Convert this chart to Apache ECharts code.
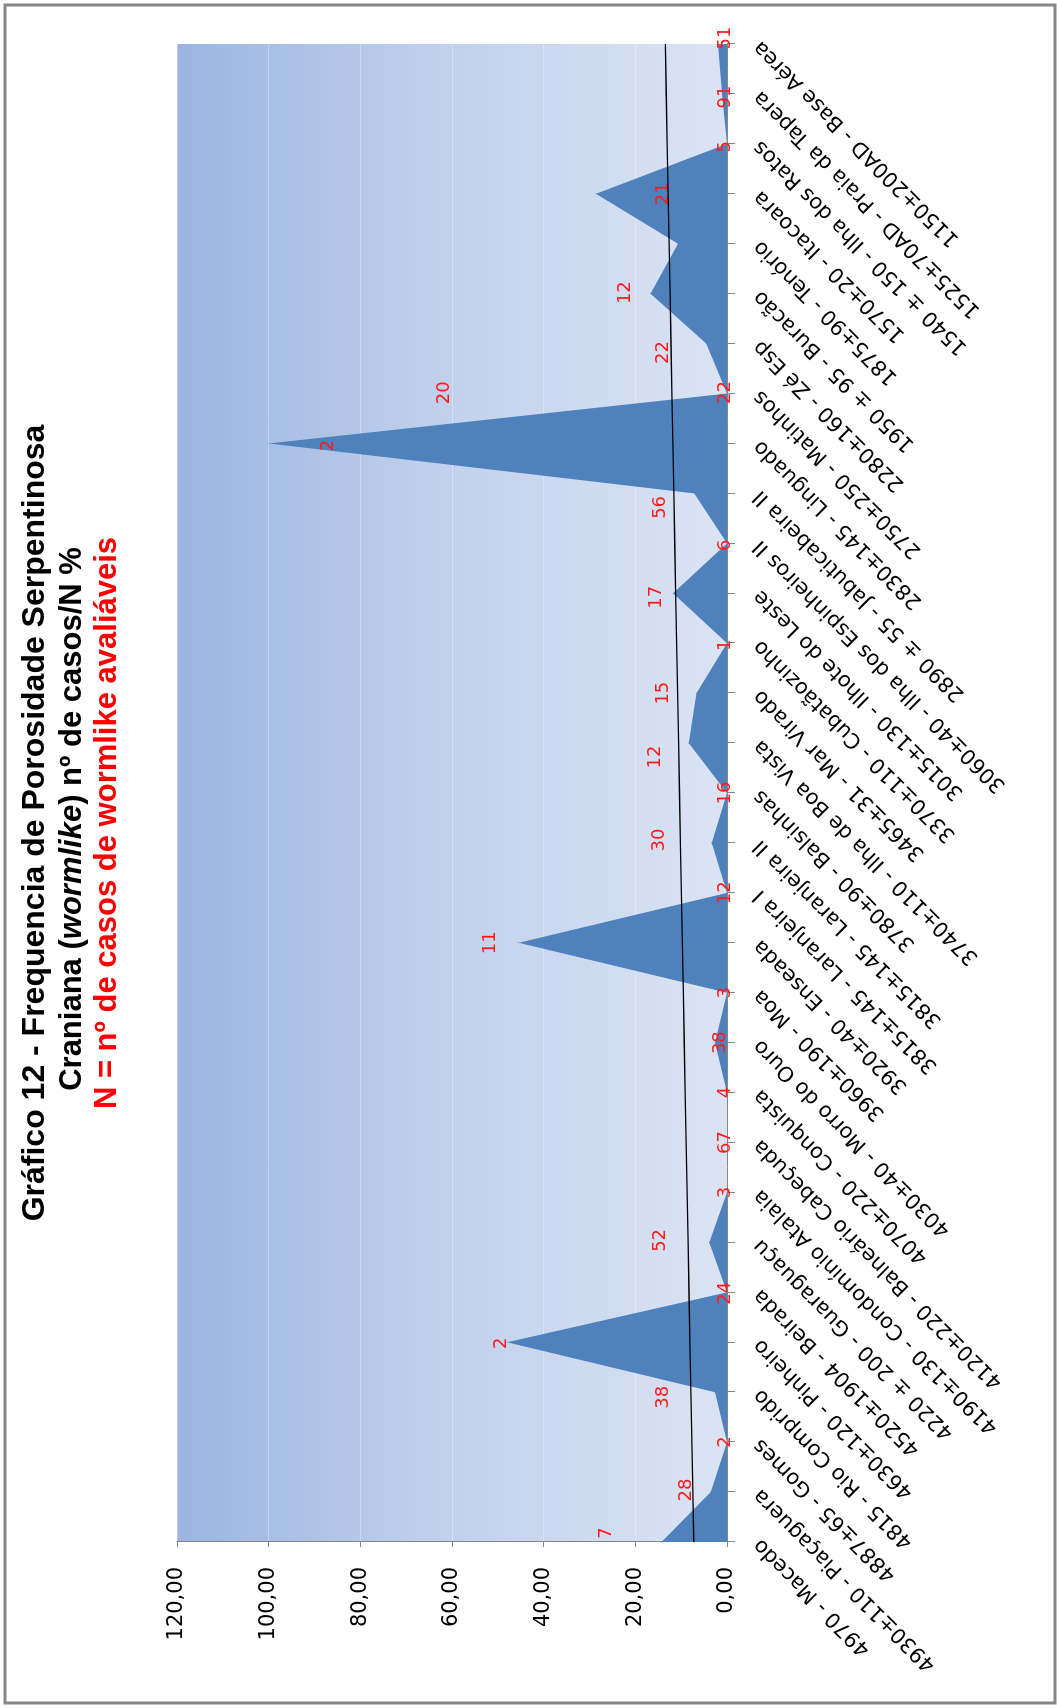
<!DOCTYPE html>
<html>
<head>
<meta charset="utf-8">
<title>Gráfico 12 - Frequencia de Porosidade Serpentinosa Craniana</title>
<script src="https://cdn.jsdelivr.net/npm/echarts@6/dist/echarts.min.js"></script>
<style>
  html, body { margin: 0; padding: 0; width: 1057px; height: 1708px; overflow: hidden; background: #ffffff; }
  /* the chart is laid out in landscape and turned a quarter turn to fit the portrait page */
  #chart {
    position: absolute; left: 0; top: 0;
    width: 1708px; height: 1057px;
    transform-origin: 0 0;
    transform: translate(0, 1708px) rotate(-90deg);
  }
</style>
</head>
<body>
<div id="chart"></div>
<script>
// Sites, ordered from oldest to most recent date
const sites = [
  '4970 - Macedo',
  '4930±110 - Piaçaguera',
  '4887±65 - Gomes',
  '4815 - Rio Comprido',
  '4630±120 - Pinheiro',
  '4520±1904 - Beirada',
  '4220 ± 200 - Guaraguaçu',
  '4190±130 - Condomínio Atalaia',
  '4120±220 - Balneário Cabeçuda',
  '4070±220 - Conquista',
  '4030±40 - Morro do Ouro',
  '3960±190 - Moa',
  '3920±40 - Enseada',
  '3815±145 - Laranjeira I',
  '3815±145 - Laranjeira II',
  '3780±90 - Balsinhas',
  '3740±110 - Ilha de Boa Vista',
  '3465±31 - Mar Virado',
  '3370±110 - Cubatãozinho',
  '3015±130 - Ilhote do Leste',
  '3060±40 - Ilha dos Espinheiros II',
  '2890 ± 55 - Jabuticabeira II',
  '2830±145 - Linguado',
  '2750±250 - Matinhos',
  '2280±160 - Zé Esp',
  '1950 ± 95 - Buracão',
  '1875±90 - Tenório',
  '1570±20 - Itacoara',
  '1540 ± 150 - Ilha dos Ratos',
  '1525±70AD - Praia da Tapera',
  '1150±200AD - Base Aérea'
];

// Frequency of wormlike porosity (% of evaluable crania)
const frequency = [
  14.29, 3.57, 0, 2.63, 48, 0, 3.85, 0, 0, 0,
  2.63, 0, 45.45, 0, 3.33, 0, 8.33, 6.67, 0, 11.76,
  0, 7.14, 100, 0, 4.55, 16.67, 10.7, 28.57, 0, 1.10,
  1.96
];

// N = number of evaluable crania per site
const sampleN = [
  7, 28, 2, 38, 2, 24, 52, 3, 67, 4,
  38, 3, 11, 12, 30, 16, 12, 15, 1, 17,
  6, 56, 2, 22, 22, 12, 20, 21, 5, 91,
  51
];

// Value axis tick labels (decimal comma)
const valueTickLabels = ['0,00', '20,00', '40,00', '60,00', '80,00', '100,00', '120,00'];

const titleLine1 = 'Gráfico 12 - Frequencia de Porosidade Serpentinosa';
const titleLine2 = ['Craniana (', 'wormlike', ') nº de casos/N %'];
const titleLine3 = 'N = nº de casos de wormlike avaliáveis';

// Pixel nudges for the N labels, [along categories, along values]
const labelShift = [
  [9, -55], [2, -24], [0, -2], [-5, -52], [-1, -6], [-1, -2], [2, -49], [0, -2], [0, -2], [0, -2],
  [0, 5], [0, -2], [0, -28], [0, -2], [3, -52], [0, -2], [-14, -33], [0, -33], [-2, -2], [-4, -17],
  [-2, -2], [-14, -34], [-2, 60], [1, -2], [-9, -43], [1, -25], [-149, -234], [0, 67], [-3, -2], [-3, 3],
  [6, 7]
];

// Linear trend line (least squares over the site order)
const count = frequency.length;
const meanX = (count - 1) / 2;
const meanY = frequency.reduce((a, b) => a + b, 0) / count;
let sxy = 0, sxx = 0;
frequency.forEach((v, i) => { sxy += (i - meanX) * (v - meanY); sxx += (i - meanX) * (i - meanX); });
const slope = sxy / sxx;
const trend = frequency.map((_, i) => meanY + slope * (i - meanX));

const chart = echarts.init(document.getElementById('chart'), null, { renderer: 'canvas' });

const sansNum = 'DejaVu Sans';
const sansTitle = 'Liberation Sans';

chart.setOption({
  animation: false,
  backgroundColor: '#ffffff',
  title: [
    {
      text: titleLine1,
      left: 880, top: 14, textAlign: 'center',
      textStyle: { fontFamily: sansTitle, fontSize: 32, fontWeight: 'bold', color: '#000000' }
    },
    {
      text: '{n|' + titleLine2[0] + '}{i|' + titleLine2[1] + '}{n|' + titleLine2[2] + '}',
      left: 884, top: 52, textAlign: 'center',
      textStyle: {
        rich: {
          n: { fontFamily: sansTitle, fontSize: 31, color: '#000000' },
          i: { fontFamily: sansTitle, fontSize: 31, fontStyle: 'italic', color: '#000000' }
        }
      }
    },
    {
      text: titleLine3,
      left: 880, top: 87, textAlign: 'center',
      textStyle: { fontFamily: sansTitle, fontSize: 31, fontWeight: 'bold', color: '#ff0000' }
    }
  ],
  graphic: [
    {
      type: 'rect', silent: true, z: 100,
      shape: { x: 5, y: 5, width: 1698, height: 1050 },
      style: { fill: 'none', stroke: '#868686', lineWidth: 3 }
    }
  ],
  grid: {
    left: 166, right: 44, top: 177, height: 550,
    show: true, borderWidth: 0,
    backgroundColor: new echarts.graphic.LinearGradient(0, 0, 0, 1, [
      { offset: 0, color: '#9bb4e1' },
      { offset: 0.45, color: '#bfcfec' },
      { offset: 1, color: '#dbe4f4' }
    ])
  },
  xAxis: {
    type: 'category',
    data: sites,
    boundaryGap: false,
    axisLine: { show: true, lineStyle: { color: '#868686', width: 1 } },
    axisTick: { show: true, interval: 0, length: 8, lineStyle: { color: '#868686' } },
    axisLabel: {
      interval: 0, rotate: 45, margin: 30,
      fontFamily: sansNum, fontSize: 21, color: '#000000'
    },
    splitLine: { show: false }
  },
  yAxis: {
    type: 'value',
    min: 0, max: 120, interval: 20,
    axisLine: { show: true, lineStyle: { color: '#868686', width: 1 } },
    axisTick: { show: true, length: 5, lineStyle: { color: '#868686' } },
    axisLabel: {
      margin: 25, fontFamily: sansNum, fontSize: 21, color: '#000000',
      formatter: (v) => valueTickLabels[Math.round(v / 20)]
    },
    splitLine: { show: true, lineStyle: { color: 'rgba(255,255,255,0.32)', width: 1 } }
  },
  series: [
    {
      name: 'Frequência',
      type: 'line',
      data: frequency.map((v, i) => ({ value: v, label: { offset: labelShift[i] } })),
      symbol: 'circle', symbolSize: 1,
      itemStyle: { color: '#4f81bd' },
      lineStyle: { width: 0, color: '#4f81bd' },
      areaStyle: { color: '#4f81bd', opacity: 1 },
      label: {
        show: true, position: 'inside',
        fontFamily: sansNum, fontSize: 18, color: '#ff1a1a',
        formatter: (p) => String(sampleN[p.dataIndex])
      },
      z: 2
    },
    {
      name: 'Linear (Frequência)',
      type: 'line',
      data: trend,
      symbol: 'none',
      lineStyle: { color: '#000000', width: 1.3 },
      z: 3,
      silent: true
    }
  ]
});
</script>
</body>
</html>
